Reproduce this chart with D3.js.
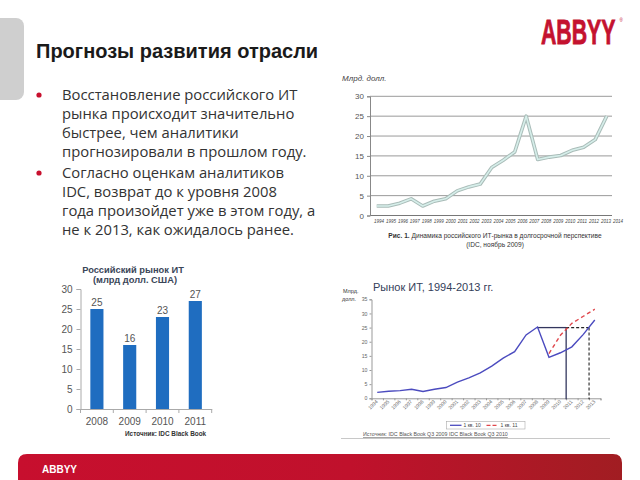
<!DOCTYPE html>
<html><head><meta charset="utf-8">
<script src="https://cdn.jsdelivr.net/npm/d3@7"></script>
<style>body{margin:0;background:#fff}svg{display:block}</style>
</head><body>
<svg id="c" width="640" height="480"></svg>
<script>
// ---------- DATA ----------
const pageTitle = "Прогнозы развития отрасли";
const bullets = [
  ["Восстановление российского ИТ", "рынка происходит значительно", "быстрее, чем аналитики", "прогнозировали в прошлом году."],
  ["Согласно оценкам аналитиков", "IDC, возврат до к уровня 2008", "года произойдет уже в этом году, а", "не к 2013, как ожидалось ранее."]
];

// Top-right chart (long-term dynamics)
const topYears = ["1994","1995","1996","1997","1998","1999","2000","2001","2002","2003","2004","2005","2006","2007","2008","2009","2010","2011","2012","2013","2014"];
const topValues = [2.4, 2.4, 3.1, 4.2, 2.4, 3.6, 4.2, 6.2, 7.2, 7.9, 12.1, 13.9, 16.0, 25.0, 14.1, 14.7, 15.1, 16.4, 17.2, 19.1, 25.0];
const topTicks = [0, 5, 10, 15, 20, 25, 30];

// Left bar chart
const barYears = ["2008", "2009", "2010", "2011"];
const barValues = [25, 16, 23, 27];
const barTicks = [0, 5, 10, 15, 20, 25, 30];

// Bottom-right chart
const mktYears = [1994,1995,1996,1997,1998,1999,2000,2001,2002,2003,2004,2005,2006,2007,2008,2009,2010,2011,2012,2013];
const mktQ10 = [2.1, 2.5, 2.7, 3.2, 2.4, 3.2, 3.8, 5.7, 7.2, 9.0, 11.4, 14.2, 16.5, 22.4, 25.2, 14.5, 16.1, 18.2, 22.6, 27.7];
const q11Years = [2009, 2010, 2011, 2012, 2013];
const mktQ11 = [15.8, 22.3, 26.5, 29.0, 31.5];
const mktTicks = [0, 5, 10, 15, 20, 25, 30, 35];
const refLevel = 25, refPeakYear = 2008, refNewYear = 2011, refOldYear = 2013;
const legendLabels = ["1 кв. 10", "1 кв. 11"];

// ---------- DRAW ----------
const svg = d3.select("#c");
const F = "'Liberation Sans', Arial, sans-serif";

// background decorations
svg.append("rect").attr("x", -12).attr("y", 18).attr("width", 36).attr("height", 82).attr("rx", 8).attr("fill", "#cfcfcf");
const defs = svg.append("defs");
const grad = defs.append("linearGradient").attr("id", "rg").attr("x1", "0").attr("x2", "1");
grad.append("stop").attr("offset", "0").attr("stop-color", "#c70f2e");
grad.append("stop").attr("offset", "0.55").attr("stop-color", "#c0112c");
grad.append("stop").attr("offset", "1").attr("stop-color", "#a11d22");
svg.append("path").attr("d", "M18,480 L18,463 Q18,454 27,454 L613,454 Q622,454 622,463 L622,480 Z").attr("fill", "url(#rg)");
svg.append("text").attr("x", 42).attr("y", 473).attr("font-family", F).attr("font-weight", "bold").attr("font-size", 10).attr("fill", "#fff").text("ABBYY");

// logo
svg.append("text").attr("transform", "translate(541,44) scale(1,1.62)").attr("x", 0).attr("y", 0)
  .attr("font-family", F).attr("font-weight", "bold").attr("font-size", 21.3)
  .attr("fill", "#c4122f").attr("stroke", "#c4122f").attr("stroke-width", 0.5).text("ABBYY");
svg.append("text").attr("x", 619.5).attr("y", 21.5).attr("font-family", F).attr("font-size", 4.5).attr("fill", "#c4122f").text("®");

// title
svg.append("text").attr("x", 36).attr("y", 58).attr("font-family", F).attr("font-weight", "bold")
  .attr("font-size", 20).attr("fill", "#1a1a1a").text(pageTitle);

// bullets
let ly = 100;
bullets.forEach((b) => {
  svg.append("circle").attr("cx", 39).attr("cy", ly - 5).attr("r", 2.6).attr("fill", "#c8102e");
  b.forEach((line) => {
    svg.append("text").attr("x", 62).attr("y", ly).attr("font-family", "'Open Sans', sans-serif")
      .attr("font-size", 14.8).attr("fill", "#333").text(line);
    ly += 19;
  });
  ly += 2;
});

// ===== Top-right chart =====
{
  const g = svg.append("g");
  const y = d3.scaleLinear().domain([0, 30]).range([215.5, 96.3]);
  const x = d3.scalePoint().domain(topYears).range([376.7, 606.7]);
  const xl = d3.scalePoint().domain(topYears).range([379, 618]);
  g.selectAll("line.grid").data(topTicks).join("line").attr("class", "grid")
    .attr("x1", 370).attr("x2", 612).attr("y1", d => y(d)).attr("y2", d => y(d))
    .attr("stroke", d => d === 0 ? "#777" : "#9a9a9a").attr("stroke-width", 1);
  const ay = g.append("g").attr("transform", "translate(370,0)")
    .call(d3.axisLeft(y).tickValues(topTicks).tickSize(3).tickPadding(3));
  ay.select(".domain").attr("stroke", "#888");
  ay.selectAll(".tick line").attr("stroke", "#888");
  ay.selectAll("text").attr("font-family", F).attr("font-size", 8).attr("fill", "#555");
  g.selectAll("text.xl").data(topYears).join("text").attr("class", "xl")
    .attr("x", d => xl(d)).attr("y", 222.5).attr("text-anchor", "middle")
    .attr("font-family", F).attr("font-style", "italic").attr("font-size", 4.5).attr("fill", "#444").text(d => d);
  const line = d3.line().x((d, i) => x(topYears[i])).y(d => y(d));
  g.append("path").attr("d", line(topValues)).attr("fill", "none").attr("stroke", "#a9bcb8").attr("stroke-width", 3.6).attr("stroke-linejoin", "round");
  g.append("path").attr("d", line(topValues)).attr("fill", "none").attr("stroke", "#d6eeea").attr("stroke-width", 1.6).attr("stroke-linejoin", "round");
  g.append("text").attr("x", 342).attr("y", 81).attr("font-family", F).attr("font-style", "italic")
    .attr("font-size", 8).attr("fill", "#444").text("Млрд. долл.");
  const cap = g.append("text").attr("x", 495).attr("y", 237.5).attr("text-anchor", "middle")
    .attr("font-family", F).attr("font-size", 6.6).attr("fill", "#333");
  cap.append("tspan").attr("font-weight", "bold").text("Рис. 1.");
  cap.append("tspan").text(" Динамика российского ИТ-рынка в долгосрочной перспективе");
  g.append("text").attr("x", 495).attr("y", 246.5).attr("text-anchor", "middle")
    .attr("font-family", F).attr("font-size", 6.6).attr("fill", "#333").text("(IDC, ноябрь 2009)");
}

// ===== Left bar chart =====
{
  const g = svg.append("g");
  const y = d3.scaleLinear().domain([0, 30]).range([409, 289]);
  const x = d3.scaleBand().domain(barYears).range([80.5, 211.7]).paddingInner(0.6).paddingOuter(0.3);
  g.append("text").attr("x", 133).attr("y", 272.5).attr("text-anchor", "middle").attr("font-family", F)
    .attr("font-weight", "bold").attr("font-size", 9.3).attr("fill", "#3a4658").text("Российский рынок ИТ");
  g.append("text").attr("x", 135).attr("y", 282.5).attr("text-anchor", "middle").attr("font-family", F)
    .attr("font-weight", "bold").attr("font-size", 9.3).attr("fill", "#3a4658").text("(млрд долл. США)");
  const ay = g.append("g").attr("transform", "translate(80.5,0)")
    .call(d3.axisLeft(y).tickValues(barTicks).tickSize(4).tickPadding(4));
  ay.select(".domain").attr("stroke", "#aaa");
  ay.selectAll(".tick line").attr("stroke", "#aaa");
  ay.selectAll("text").attr("font-family", F).attr("font-size", 10).attr("fill", "#555");
  const ax = g.append("g").attr("transform", "translate(0,409)")
    .call(d3.axisBottom(x).tickSize(0).tickPadding(9));
  ax.select(".domain").attr("stroke", "#aaa");
  ax.selectAll("text").attr("font-family", F).attr("font-size", 10).attr("fill", "#555");
  const step = x.step(), x0 = x(barYears[0]) - (step - x.bandwidth()) / 2;
  g.selectAll("line.bt").data(d3.range(barYears.length + 1)).join("line").attr("class", "bt")
    .attr("x1", k => x0 + k * step).attr("x2", k => x0 + k * step).attr("y1", 409).attr("y2", 413).attr("stroke", "#aaa");
  g.selectAll("rect.bar").data(barValues).join("rect").attr("class", "bar")
    .attr("x", (d, i) => x(barYears[i])).attr("width", x.bandwidth())
    .attr("y", d => y(d)).attr("height", d => y(0) - y(d)).attr("fill", "#1f6dc0");
  g.selectAll("text.val").data(barValues).join("text").attr("class", "val")
    .attr("x", (d, i) => x(barYears[i]) + x.bandwidth() / 2).attr("y", d => y(d) - 3)
    .attr("text-anchor", "middle").attr("font-family", F).attr("font-size", 10).attr("fill", "#555").text(d => d);
  g.append("text").attr("x", 125).attr("y", 436).attr("font-family", F).attr("font-weight", "bold")
    .attr("font-size", 6.4).attr("fill", "#333").text("Источник: IDC Black Book");
}

// ===== Bottom-right chart =====
{
  const g = svg.append("g");
  const y = d3.scaleLinear().domain([0, 35]).range([398.3, 299.3]);
  const x = d3.scaleLinear().domain([1993.5, 2013.5]).range([371.5, 600.5]);
  const tickX = yr => x(yr - 0.5);
  g.append("text").attr("x", 373).attr("y", 291).attr("font-family", F).attr("font-size", 11)
    .attr("fill", "#34405a").text("Рынок ИТ, 1994-2013 гг.");
  g.append("text").attr("x", 343).attr("y", 293).attr("font-family", F).attr("font-size", 5.5).attr("fill", "#333").text("Млрд.");
  g.append("text").attr("x", 342).attr("y", 300.5).attr("font-family", F).attr("font-size", 5.5).attr("fill", "#333").text("долл.");
  const ay = g.append("g").attr("transform", "translate(371.5,0)")
    .call(d3.axisLeft(y).tickValues(mktTicks).tickSize(2).tickPadding(2));
  ay.select(".domain").attr("stroke", "#999");
  ay.selectAll(".tick line").attr("stroke", "#999");
  ay.selectAll("text").attr("font-family", F).attr("font-size", 5.2).attr("fill", "#666");
  const bounds = mktYears.map(d => d - 0.5).concat([2013.5]);
  const axb = g.append("g").attr("transform", "translate(0,398.3)")
    .call(d3.axisBottom(x).tickValues(bounds).tickSize(2).tickFormat(""));
  axb.select(".domain").attr("stroke", "#999");
  axb.selectAll(".tick line").attr("stroke", "#999");
  g.selectAll("text.xl").data(mktYears).join("text").attr("class", "xl")
    .attr("transform", d => `translate(${x(d) + 1},402) rotate(-45)`).attr("text-anchor", "end")
    .attr("font-family", F).attr("font-size", 5).attr("fill", "#666").text(d => d);
  // reference lines
  g.append("line").attr("x1", x(refPeakYear)).attr("x2", tickX(refNewYear)).attr("y1", y(refLevel)).attr("y2", y(refLevel))
    .attr("stroke", "#33365e").attr("stroke-width", 1.3);
  g.append("line").attr("x1", tickX(refNewYear)).attr("x2", tickX(refNewYear)).attr("y1", y(refLevel)).attr("y2", y(0) + 1)
    .attr("stroke", "#33365e").attr("stroke-width", 1.3);
  g.append("line").attr("x1", tickX(refNewYear)).attr("x2", tickX(refOldYear)).attr("y1", y(refLevel)).attr("y2", y(refLevel))
    .attr("stroke", "#222").attr("stroke-width", 1.1).attr("stroke-dasharray", "3,2");
  g.append("line").attr("x1", tickX(refOldYear)).attr("x2", tickX(refOldYear)).attr("y1", y(refLevel)).attr("y2", y(0) + 1)
    .attr("stroke", "#222").attr("stroke-width", 1.1).attr("stroke-dasharray", "3,2");
  const ln = d3.line().x(d => x(d[0])).y(d => y(d[1]));
  g.append("path").attr("d", ln(mktYears.map((d, i) => [d, mktQ10[i]]))).attr("fill", "none")
    .attr("stroke", "#4b4bbf").attr("stroke-width", 1.4);
  g.append("path").attr("d", ln(q11Years.map((d, i) => [d, mktQ11[i]]))).attr("fill", "none")
    .attr("stroke", "#e0474c").attr("stroke-width", 1.4).attr("stroke-dasharray", "4,3");
  // legend
  g.append("rect").attr("x", 446.5).attr("y", 421.5).attr("width", 78.5).attr("height", 7.5)
    .attr("fill", "#fff").attr("stroke", "#aaa").attr("stroke-width", 0.6);
  g.append("line").attr("x1", 450).attr("x2", 461.5).attr("y1", 425.3).attr("y2", 425.3).attr("stroke", "#4b4bbf").attr("stroke-width", 1.3);
  g.append("text").attr("x", 463.5).attr("y", 427.2).attr("font-family", F).attr("font-size", 5).attr("fill", "#444").text(legendLabels[0]);
  g.append("line").attr("x1", 486.5).attr("x2", 498.5).attr("y1", 425.3).attr("y2", 425.3).attr("stroke", "#e0474c").attr("stroke-width", 1.3).attr("stroke-dasharray", "4,2");
  g.append("text").attr("x", 500.5).attr("y", 427.2).attr("font-family", F).attr("font-size", 5).attr("fill", "#444").text(legendLabels[1]);
  g.append("text").attr("x", 363).attr("y", 436).attr("font-family", F).attr("font-size", 5.3).attr("fill", "#555")
    .attr("text-decoration", "underline").text("Источник: IDC Black Book Q3 2009 IDC Black Book Q3 2010");
  g.append("line").attr("x1", 341).attr("x2", 610).attr("y1", 438.5).attr("y2", 438.5).attr("stroke", "#c8c8c8").attr("stroke-width", 1);
}
</script>
</body></html>
